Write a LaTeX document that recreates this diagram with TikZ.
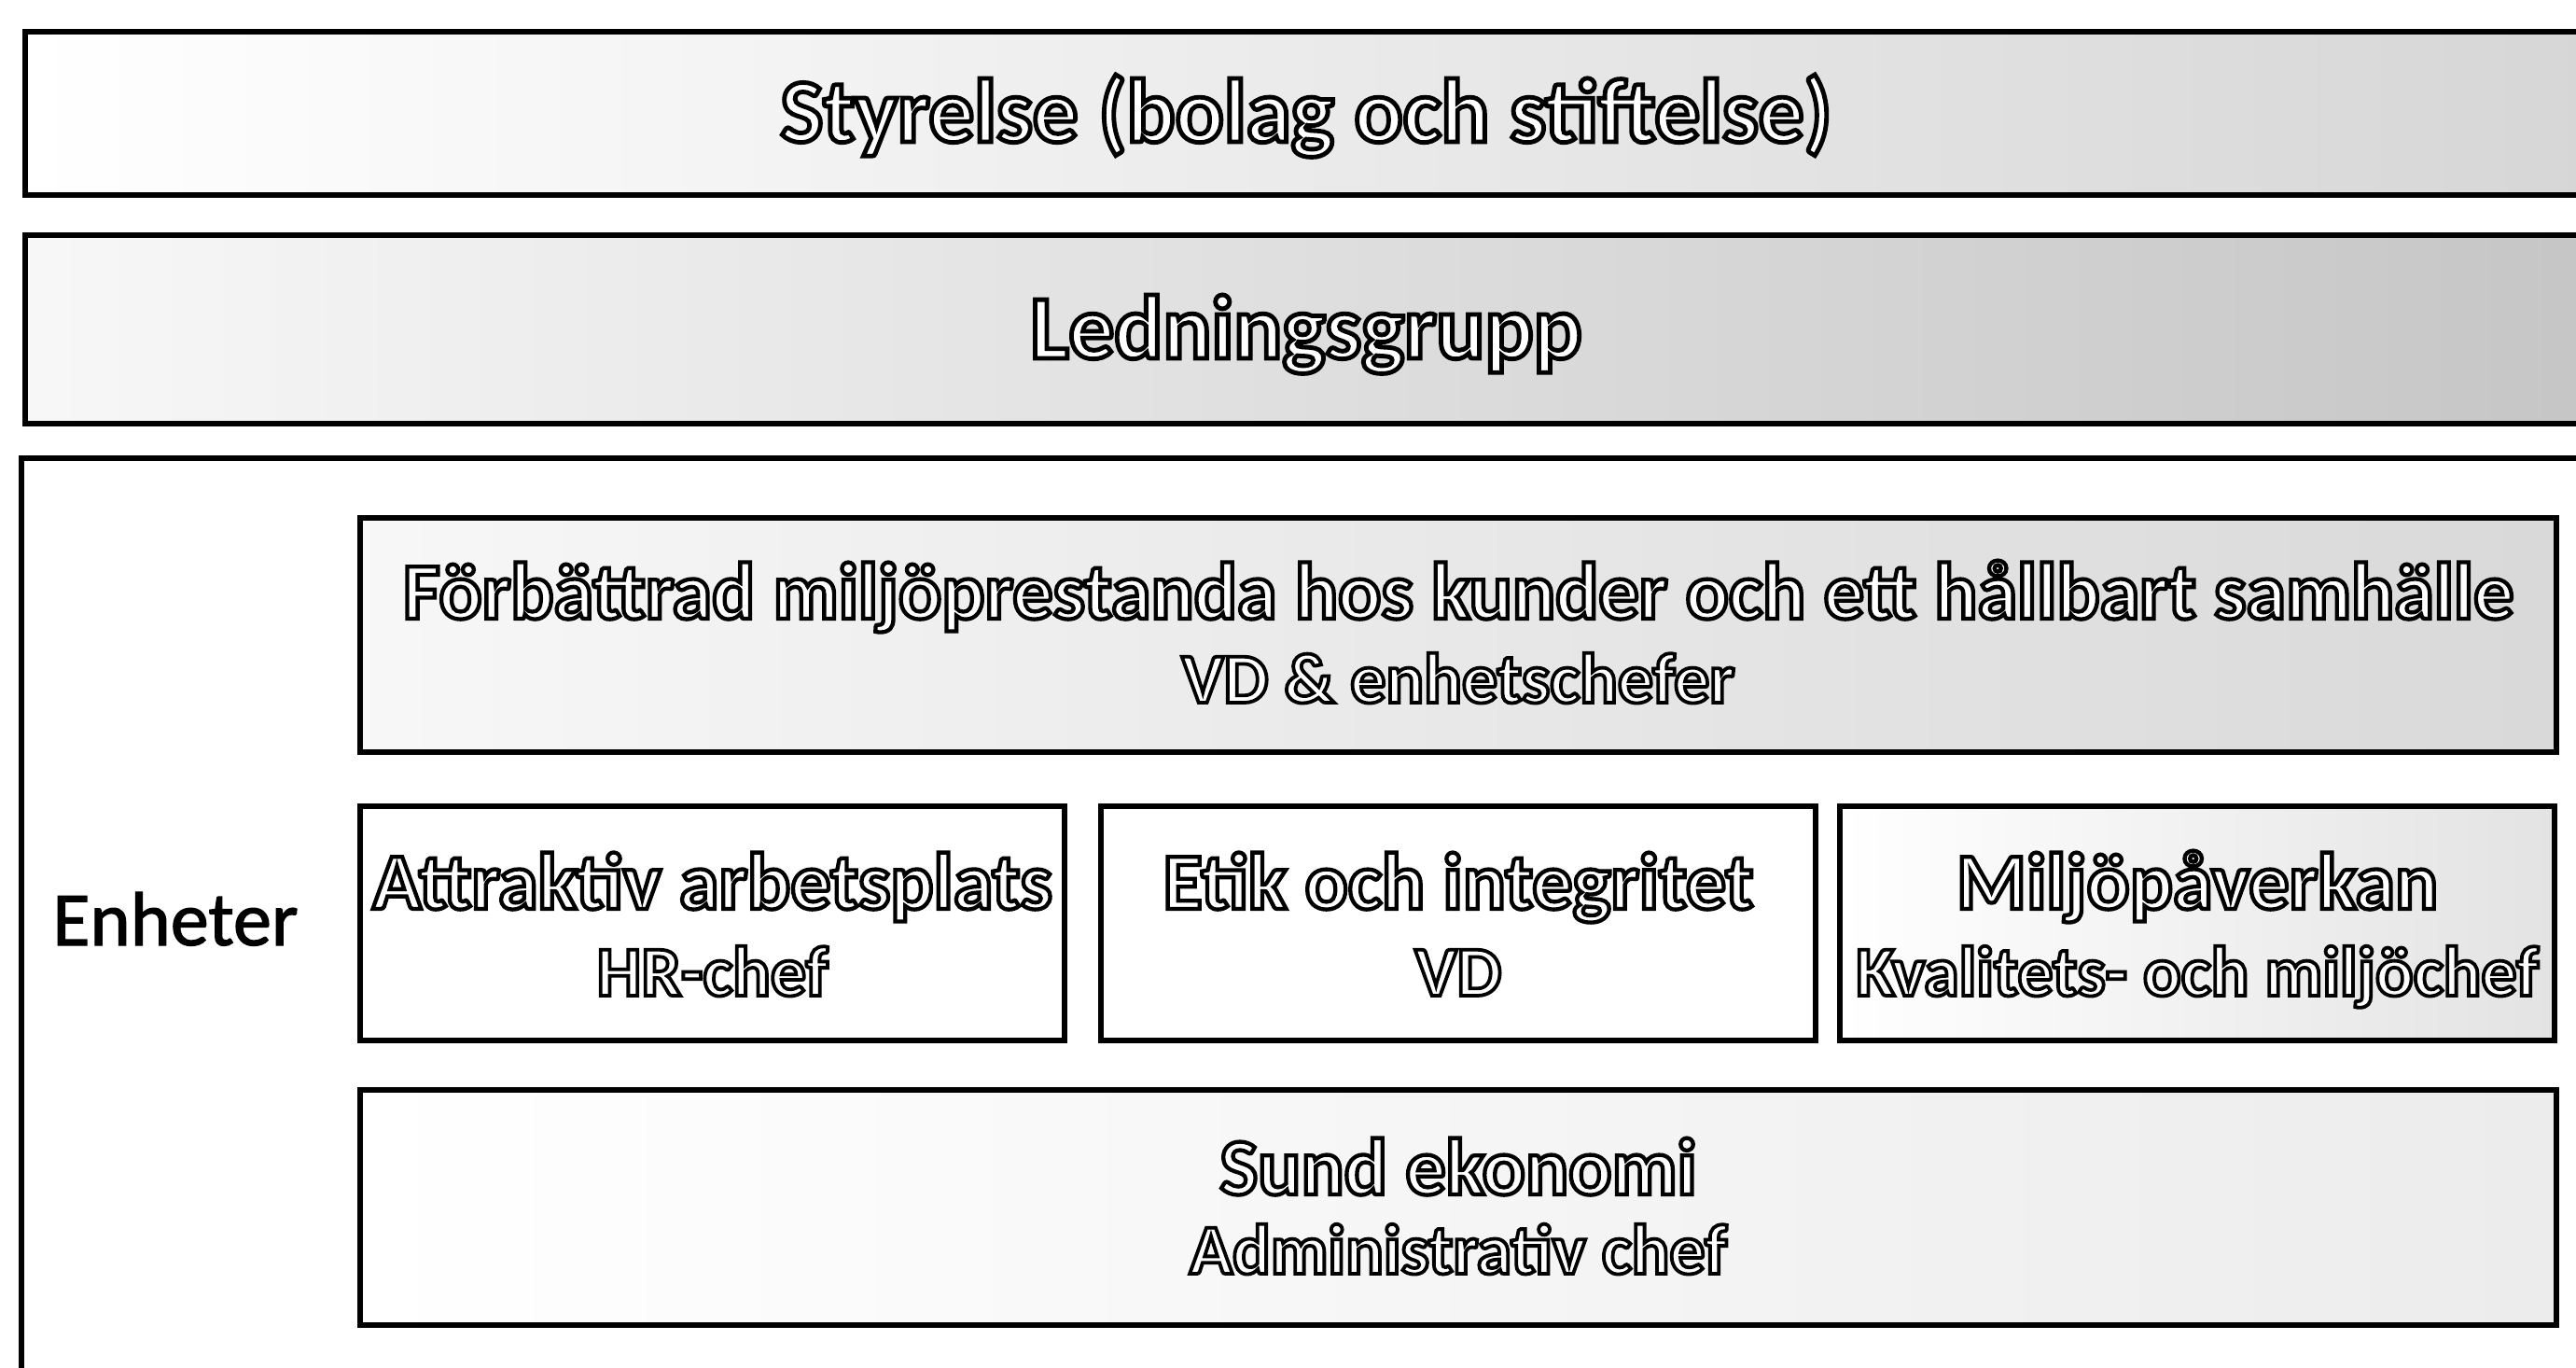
\documentclass[tikz,border=0pt]{standalone}
\usepackage{fontspec}
\setmainfont{Carlito}
\newfontface\topfont{Carlito Bold}[FakeBold=5]
\newfontface\ttlfont{Carlito Bold}[FakeBold=5]
\newfontface\subfont{Carlito Bold}[FakeBold=5]
\newfontface\sidefont{Carlito}[FakeBold=1.5]
\newcommand{\outl}[1]{\special{pdf:bcolor [1] [0]}#1\special{pdf:ecolor}}
\tikzset{
  bx/.style={draw=black, line width=1.8pt, inner sep=0pt, anchor=center},
  toptxt/.style={anchor=base, inner sep=0pt, font=\topfont\fontsize{27.6}{32}\selectfont},
  ttltxt/.style={anchor=base, inner sep=0pt, font=\ttlfont\fontsize{24.5}{29}\selectfont},
  subtxt/.style={anchor=base, inner sep=0pt, font=\subfont\fontsize{21.6}{26}\selectfont},
  sidetxt/.style={anchor=base, inner sep=0pt, font=\sidefont\fontsize{23.4}{28}\selectfont},
}
\begin{document}
\begin{tikzpicture}[y=-1cm]
\clip (0,0) rectangle (27.61,14.66);
\fill[white] (0,0) rectangle (27.61,14.66);

% outer frame (extends beyond the picture to the right and bottom)
\draw[line width=1.8pt] (0.23,15.2) -- (0.23,4.91) -- (28.2,4.91);

% top bands
\node[bx, minimum width=27.46cm, minimum height=1.75cm, left color=white, right color=gray!32] (styr) at (14.00,1.215) {};
\node[bx, minimum width=27.46cm, minimum height=2.02cm, left color=gray!6, right color=gray!45] (led) at (14.00,3.53) {};
\node[toptxt] (styrt) at (14.00,1.52) {\outl{Styrelse (bolag och stiftelse)}};
\node[toptxt] (ledt) at (14.00,3.84) {\outl{Ledningsgrupp}};

% units
\node[sidetxt] (enh) at (1.88,10.13) {Enheter};

\node[bx, minimum width=23.54cm, minimum height=2.51cm, left color=gray!6, right color=gray!30] (forb) at (15.63,6.805) {};
\node[ttltxt] (forbt) at (15.63,6.63) {\outl{Förbättrad miljöprestanda hos kunder och ett hållbart samhälle}};
\node[subtxt] (forbs) at (15.63,7.53) {\outl{VD \& enhetschefer}};

\node[bx, minimum width=7.55cm, minimum height=2.51cm, fill=white] (attr) at (7.635,9.895) {};
\node[ttltxt] (attrt) at (7.635,9.74) {\outl{Attraktiv arbetsplats}};
\node[subtxt] (attrs) at (7.635,10.67) {\outl{HR-chef}};

\node[bx, minimum width=7.66cm, minimum height=2.51cm, fill=white] (etik) at (15.63,9.895) {};
\node[ttltxt] (etikt) at (15.63,9.74) {\outl{Etik och integritet}};
\node[subtxt] (etiks) at (15.63,10.67) {\outl{VD}};

\node[bx, minimum width=7.66cm, minimum height=2.51cm, left color=white, right color=gray!22] (milj) at (23.55,9.895) {};
\node[ttltxt] (miljt) at (23.55,9.74) {\outl{Miljöpåverkan}};
\node[subtxt] (miljs) at (23.55,10.67) {\outl{Kvalitets- och miljöchef}};

\node[bx, minimum width=23.54cm, minimum height=2.52cm, left color=white, right color=gray!15] (sund) at (15.63,12.94) {};
\node[ttltxt] (sundt) at (15.63,12.80) {\outl{Sund ekonomi}};
\node[subtxt] (sunds) at (15.63,13.65) {\outl{Administrativ chef}};
\end{tikzpicture}
\end{document}
